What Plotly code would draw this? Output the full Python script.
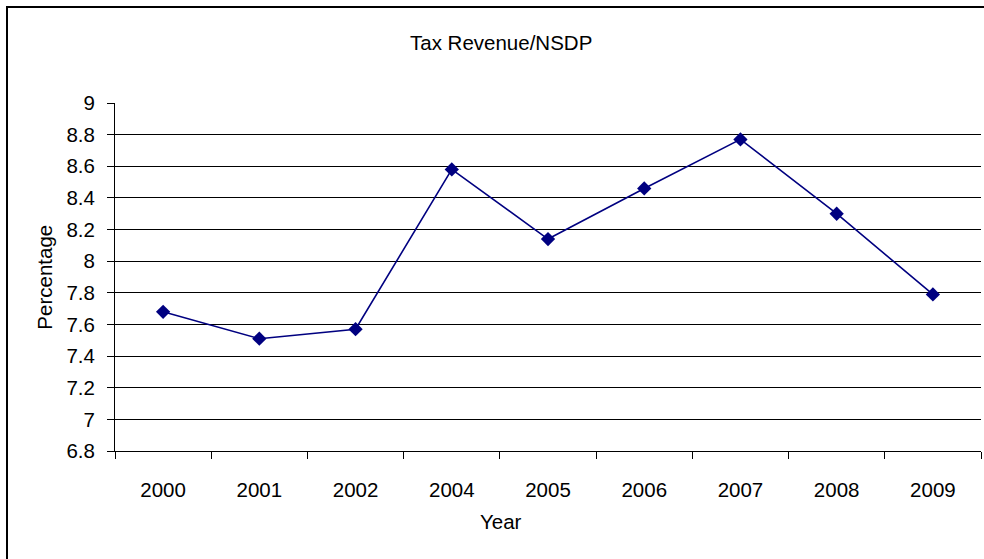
import plotly.graph_objects as go

# Tax revenue as a share of NSDP, by year
years = ["2000", "2001", "2002", "2004", "2005", "2006", "2007", "2008", "2009"]
tax_to_nsdp = [7.68, 7.51, 7.57, 8.58, 8.14, 8.46, 8.77, 8.30, 7.79]

y_ticks = [6.8, 7.0, 7.2, 7.4, 7.6, 7.8, 8.0, 8.2, 8.4, 8.6, 8.8, 9.0]
y_tick_text = ["6.8", "7", "7.2", "7.4", "7.6", "7.8", "8", "8.2", "8.4", "8.6", "8.8", "9"]

FONT = "Liberation Sans, Arial, sans-serif"
NAVY = "#000080"
FS = 20.5

# paper-coordinate helpers for the chart-area frame (plot area spans 115..981 x 103..451 px)
def px_x(v):
    return (v - 115) / 866

def px_y(v):
    return (451 - v) / 348

fig = go.Figure()
fig.add_trace(go.Scatter(
    x=years,
    y=tax_to_nsdp,
    mode="lines+markers",
    line=dict(color=NAVY, width=1.6),
    marker=dict(symbol="diamond", size=11, color=NAVY),
    showlegend=False,
))

fig.update_layout(
    width=984,
    height=559,
    margin=dict(l=115, r=3, t=103, b=108),
    paper_bgcolor="white",
    plot_bgcolor="white",
    font=dict(family=FONT, size=FS, color="black"),
    xaxis=dict(
        type="category",
        range=[-0.5, 8.5],
        tickson="boundaries",
        ticks="outside",
        ticklen=7,
        tickcolor="black",
        showline=True,
        linecolor="black",
        linewidth=1,
        showgrid=False,
        zeroline=False,
        ticklabelstandoff=20,
        tickfont=dict(size=FS),
    ),
    yaxis=dict(
        range=[6.8, 9.0],
        tickvals=y_ticks,
        ticktext=y_tick_text,
        ticks="outside",
        ticklen=7,
        tickcolor="black",
        showline=True,
        linecolor="black",
        linewidth=1,
        showgrid=True,
        gridcolor="black",
        gridwidth=1,
        zeroline=False,
        ticklabelstandoff=8,
        tickfont=dict(size=FS),
    ),
    annotations=[
        dict(text="Tax Revenue/NSDP", xref="paper", yref="paper",
             x=0.4457, y=1.174, xanchor="center", yanchor="middle",
             showarrow=False, font=dict(size=FS)),
        dict(text="Year", xref="paper", yref="paper",
             x=0.4457, y=-0.204, xanchor="center", yanchor="middle",
             showarrow=False, font=dict(size=FS)),
        dict(text="Percentage", xref="paper", yref="paper",
             x=-0.0824, y=0.5, xanchor="center", yanchor="middle",
             textangle=-90, showarrow=False, font=dict(size=FS)),
    ],
    shapes=[
        # left and top edges of the chart-area frame
        dict(type="line", xref="paper", yref="paper",
             x0=px_x(7), x1=px_x(7), y0=px_y(6), y1=px_y(559),
             line=dict(color="black", width=2)),
        dict(type="line", xref="paper", yref="paper",
             x0=px_x(6), x1=px_x(984), y0=px_y(7), y1=px_y(7),
             line=dict(color="black", width=2)),
    ],
)

fig.write_html("out.html")
